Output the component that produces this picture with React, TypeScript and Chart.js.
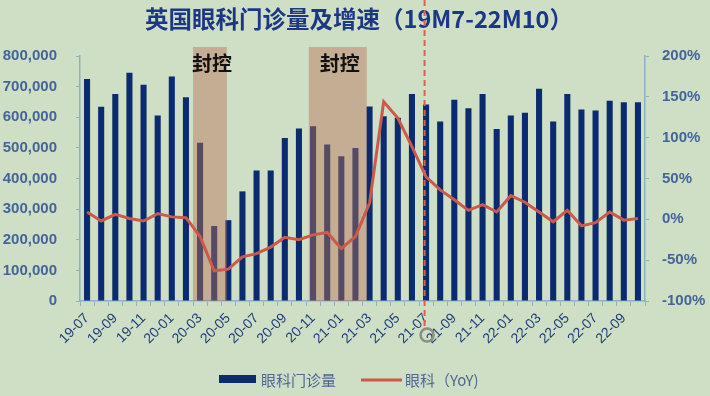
import React, { useEffect, useRef } from 'react';
import { Chart, registerables } from 'chart.js';

Chart.register(...registerables);

const TITLE = '英国眼科门诊量及增速（19M7-22M10）';
const BAR_LABEL = '眼科门诊量';
const LINE_LABEL = '眼科（YoY)';
const LOCK_LABEL = '封控';

const months = [
  '19-07', '19-08', '19-09', '19-10', '19-11', '19-12',
  '20-01', '20-02', '20-03', '20-04', '20-05', '20-06', '20-07', '20-08', '20-09', '20-10', '20-11', '20-12',
  '21-01', '21-02', '21-03', '21-04', '21-05', '21-06', '21-07', '21-08', '21-09', '21-10', '21-11', '21-12',
  '22-01', '22-02', '22-03', '22-04', '22-05', '22-06', '22-07', '22-08', '22-09', '22-10',
];

const visits = [
  725000, 634000, 676000, 745000, 706000, 606000,
  733000, 665000, 517000, 245000, 264000, 358000, 426000, 426000, 532000, 563000, 571000, 511000,
  473000, 500000, 635000, 603000, 598000, 676000, 642000, 586000, 657000, 629000, 676000, 562000,
  606000, 615000, 693000, 586000, 676000, 625000, 622000, 654000, 649000, 649000,
];

const yoy = [
  0.09, -0.02, 0.06, 0.01, -0.02, 0.07,
  0.03, 0.02, -0.21, -0.63, -0.61, -0.46, -0.42, -0.34, -0.22, -0.25, -0.19, -0.16,
  -0.36, -0.21, 0.20, 1.44, 1.24, 0.89, 0.52, 0.36, 0.24, 0.11, 0.18, 0.09,
  0.29, 0.21, 0.09, -0.03, 0.11, -0.08, -0.04, 0.09, -0.01, 0.01,
];

// lockdown spans, in category-index units
const lockdownStart = [7.5, 15.7];
const lockdownEnd = [9.9, 19.8];
const markerMonth = '21-07';

const NAVY = '#0a2b70';
const RED = '#cb5a4b';
const AXIS = '#8ab3c4';
const TICK_COLOR = '#45649a';

const overlayPlugin = {
  id: 'overlay',
  afterDatasetDraw(chart: any, args: any) {
    if (args.index !== 0) return;
    const { ctx, chartArea, scales } = chart;
    const x = scales.x;
    ctx.save();
    for (let i = 0; i < lockdownStart.length; i++) {
      const x0 = x.getPixelForValue(lockdownStart[i]);
      const x1 = x.getPixelForValue(lockdownEnd[i]);
      const top = chartArea.top - 9;
      ctx.fillStyle = 'rgba(182,112,87,0.45)';
      ctx.fillRect(x0, top, x1 - x0, chartArea.bottom - top);
      ctx.fillStyle = '#111111';
      ctx.font = 'bold 20px "Noto Sans CJK SC"';
      ctx.textAlign = 'center';
      ctx.textBaseline = 'middle';
      ctx.fillText(LOCK_LABEL, (x0 + x1) / 2 + 2, chartArea.top + 7);
    }
    ctx.restore();
  },
  afterDraw(chart: any) {
    const { ctx, scales } = chart;
    const x = scales.x;
    ctx.save();
    // title
    ctx.fillStyle = '#1c3784';
    ctx.font = 'bold 23.5px "Noto Sans CJK SC"';
    ctx.textAlign = 'center';
    ctx.textBaseline = 'middle';
    ctx.fillText(TITLE, 359, 19);

    // dashed marker
    const mx = x.getPixelForValue(months.indexOf(markerMonth)) - 1.5;
    ctx.strokeStyle = '#d8634c';
    ctx.lineWidth = 2;
    ctx.setLineDash([6, 4]);
    ctx.beginPath();
    ctx.moveTo(mx, 0);
    ctx.lineTo(mx, 328);
    ctx.stroke();
    ctx.setLineDash([]);
    ctx.strokeStyle = '#8b8f7b';
    ctx.lineWidth = 2.5;
    ctx.beginPath();
    ctx.arc(mx + 2.5, 335, 6.5, 0, Math.PI * 2);
    ctx.stroke();

    // legend
    ctx.fillStyle = NAVY;
    ctx.fillRect(219, 375, 37, 8);
    ctx.font = '15px "Noto Sans CJK SC"';
    ctx.textAlign = 'left';
    ctx.fillStyle = '#4f6690';
    ctx.fillText(BAR_LABEL, 261, 380);
    ctx.strokeStyle = RED;
    ctx.lineWidth = 3;
    ctx.beginPath();
    ctx.moveTo(361, 380);
    ctx.lineTo(402, 380);
    ctx.stroke();
    ctx.fillText(LINE_LABEL, 405, 380);
    ctx.restore();
  },
};

export default function App() {
  const canvasRef = useRef<HTMLCanvasElement | null>(null);

  useEffect(() => {
    if (!canvasRef.current) return;
    const chart = new Chart(canvasRef.current, {
      type: 'bar',
      data: {
        labels: months,
        datasets: [
          {
            type: 'bar',
            label: BAR_LABEL,
            data: visits,
            backgroundColor: NAVY,
            yAxisID: 'y',
            categoryPercentage: 1,
            barPercentage: 0.43,
            order: 2,
          },
          {
            type: 'line',
            label: LINE_LABEL,
            data: yoy,
            borderColor: RED,
            borderWidth: 3,
            pointRadius: 0,
            tension: 0,
            yAxisID: 'y1',
            order: 1,
          },
        ],
      },
      options: {
        animation: false,
        responsive: false,
        maintainAspectRatio: false,
        layout: { padding: { top: 56, left: 0, right: 0, bottom: 0 } },
        plugins: {
          legend: { display: false },
          title: { display: false },
          tooltip: { enabled: false },
        },
        scales: {
          x: {
            offset: true,
            grid: { display: true, drawOnChartArea: false, offset: true, tickLength: 5, color: AXIS },
            border: { color: AXIS, width: 1.5 },
            ticks: {
              autoSkip: false,
              minRotation: 45,
              maxRotation: 45,
              padding: 4,
              color: '#1f3d7a',
              font: { family: 'Liberation Sans', size: 14 },
              callback: (_v: any, i: number) => (i % 2 === 0 ? months[i] : ''),
            },
            afterFit: (s: any) => { s.height = 95; },
          },
          y: {
            position: 'left',
            min: 0,
            max: 800000,
            grid: { display: true, drawOnChartArea: false, tickLength: 4, color: AXIS },
            border: { color: AXIS, width: 1.5 },
            ticks: {
              stepSize: 100000,
              padding: 19,
              color: TICK_COLOR,
              font: { family: 'Liberation Sans', size: 15, weight: 'bold' },
              callback: (v: any) => Number(v).toLocaleString('en-US'),
            },
            afterFit: (s: any) => { s.width = 80; },
          },
          y1: {
            position: 'right',
            min: -1,
            max: 2,
            grid: { display: true, drawOnChartArea: false, tickLength: 4, color: AXIS },
            border: { color: AXIS, width: 1.5 },
            ticks: {
              stepSize: 0.5,
              padding: 13,
              color: TICK_COLOR,
              font: { family: 'Liberation Sans', size: 15, weight: 'bold' },
              callback: (v: any) => Math.round(Number(v) * 100) + '%',
            },
            afterFit: (s: any) => { s.width = 65; },
          },
        },
      },
      plugins: [overlayPlugin],
    } as any);
    return () => chart.destroy();
  }, []);

  return (
    <div style={{ position: 'fixed', left: 0, top: 0, width: 710, height: 396, background: '#cfdfc5' }}>
      <canvas ref={canvasRef} width={710} height={396} style={{ width: 710, height: 396, display: 'block' }} />
    </div>
  );
}
